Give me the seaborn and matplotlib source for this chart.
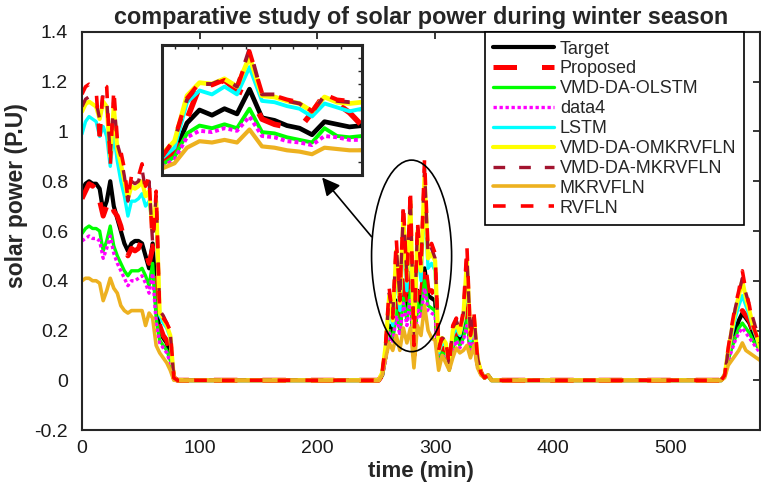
import matplotlib
matplotlib.use("Agg")
import matplotlib.pyplot as plt
import seaborn as sns
from matplotlib.patches import Ellipse

# ---------------- data ----------------
time_day1 = list(range(0, 82, 3))        # 0..81
time_day2 = list(range(252, 349, 3))     # 252..348
time_day3 = list(range(543, 577, 3))     # 543..576
time = time_day1 + time_day2 + time_day3

target_d1 = [.76,.79,.80,.79,.79,.77,.68,.72,.80,.70,.65,.60,.55,.52,.55,.56,.56,.55,.50,.45,.55,.30,.20,.17,.15,.10,.01,0]
target_d2 = [0,.02,.10,.22,.18,.32,.22,.38,.27,.41,.10,.36,.30,.45,.34,.33,.32,.08,.12,.11,.05,.14,.19,.15,.19,.28,.13,.20,.07,.03,.01,.02,0]
target_d3 = [0,.02,.09,.15,.20,.24,.27,.25,.23,.19,.16,.14]

proposed_d1 = [.73,.76,.79,.78,.80,.72,.66,.70,.74,.68,.66,.62,.56,.50,.53,.52,.53,.57,.52,.47,.53,.32,.22,.18,.16,.11,.01,0]
proposed_d2 = [0,.02,.10,.22,.18,.33,.22,.40,.28,.43,.10,.38,.32,.48,.36,.36,.34,.08,.13,.12,.05,.15,.20,.16,.20,.30,.14,.21,.07,.03,.01,.02,0]
proposed_d3 = [0,.02,.10,.15,.21,.25,.28,.26,.24,.20,.17,.14]

olstm_d1 = [.59,.61,.62,.61,.61,.60,.52,.56,.62,.54,.50,.47,.44,.42,.44,.44,.44,.45,.42,.38,.47,.25,.16,.14,.12,.08,.01,0]
olstm_d2 = [0,.02,.09,.20,.16,.28,.20,.33,.24,.36,.09,.31,.27,.40,.30,.29,.28,.07,.11,.10,.04,.13,.17,.14,.17,.24,.12,.18,.06,.03,.01,.02,0]
olstm_d3 = [0,.02,.08,.13,.17,.21,.23,.21,.19,.16,.14,.12]

data4_d1 = [.56,.57,.58,.57,.57,.56,.49,.53,.58,.51,.47,.44,.41,.38,.40,.40,.41,.42,.39,.35,.43,.23,.15,.13,.11,.07,.01,0]
data4_d2 = [0,.02,.08,.19,.15,.26,.18,.31,.22,.33,.08,.29,.25,.37,.28,.27,.26,.06,.10,.09,.04,.12,.16,.13,.16,.22,.11,.17,.06,.03,.01,.02,0]
data4_d3 = [0,.02,.08,.12,.16,.19,.21,.19,.17,.15,.13,.11]

lstm_d1 = [.99,1.04,1.06,1.05,1.04,.98,1.02,.98,.86,.99,.88,.80,.74,.66,.72,.72,.73,.75,.70,.72,.62,.68,.26,.23,.21,.17,.01,0]
lstm_d2 = [0,.03,.12,.30,.22,.46,.28,.58,.36,.64,.13,.54,.40,.74,.45,.47,.44,.11,.15,.14,.05,.18,.21,.18,.24,.42,.16,.23,.08,.03,.01,.02,0]
lstm_d3 = [0,.02,.11,.18,.25,.30,.34,.30,.26,.21,.17,.13]

omk_d1 = [1.08,1.11,1.12,1.11,1.10,1.05,1.12,1.10,.90,1.10,.93,.87,.80,.73,.78,.77,.78,.80,.74,.76,.60,.72,.27,.25,.22,.18,.01,0]
omk_d2 = [0,.03,.14,.34,.24,.52,.31,.65,.40,.72,.14,.60,.44,.82,.49,.51,.48,.12,.17,.15,.06,.20,.23,.19,.26,.48,.17,.25,.09,.03,.01,.02,0]
omk_d3 = [0,.02,.12,.20,.28,.34,.40,.33,.28,.22,.18,.13]

mk_d1 = [1.10,1.13,1.14,1.13,1.12,1.05,1.15,1.13,.90,1.13,.95,.90,.82,.72,.80,.79,.80,.85,.76,.80,.55,.74,.28,.26,.23,.19,.01,0]
mk_d2 = [0,.03,.14,.35,.26,.54,.33,.68,.42,.74,.15,.62,.46,.85,.50,.53,.49,.13,.17,.16,.06,.21,.24,.20,.27,.50,.18,.26,.09,.03,.01,.02,0]
mk_d3 = [0,.02,.12,.21,.29,.35,.41,.35,.30,.25,.20,.15]

mkr_d1 = [.40,.41,.41,.40,.40,.39,.32,.36,.41,.37,.35,.30,.28,.27,.28,.28,.28,.28,.22,.27,.25,.14,.11,.09,.07,.04,0,0]
mkr_d2 = [0,.02,.09,.15,.12,.18,.12,.21,.15,.21,.05,.22,.18,.30,.20,.17,.16,.04,.10,.07,.04,.09,.13,.11,.12,.14,.09,.14,.05,.02,.01,.02,0]
mkr_d3 = [0,.01,.06,.08,.10,.12,.15,.12,.11,.10,.09,.08]

rvfln_d1 = [1.15,1.18,1.19,1.18,1.17,.95,1.19,1.18,.86,1.17,.97,.92,.85,.73,.82,.80,.82,.87,.78,.82,.52,.76,.27,.25,.23,.20,.01,0]
rvfln_d2 = [0,.03,.15,.37,.25,.57,.32,.71,.40,.77,.14,.64,.45,.89,.52,.55,.51,.12,.18,.16,.06,.22,.25,.20,.28,.54,.18,.27,.09,.03,.01,.02,0]
rvfln_d3 = [0,.02,.13,.22,.30,.36,.44,.36,.30,.22,.18,.12]

# inset (zoomed view) data
inset_x = list(range(17))
inset_target   = [.12,.17,.40,.50,.46,.51,.47,.66,.44,.42,.38,.36,.31,.41,.39,.37,.38]
inset_proposed = [.12,.16,.43,.68,.69,.73,.65,.61,.43,.39,.37,.36,.48,.62,.55,.48,.38]
inset_olstm    = [.08,.14,.32,.38,.36,.39,.36,.51,.33,.32,.29,.27,.25,.36,.30,.29,.30]
inset_data4    = [.06,.12,.29,.34,.33,.36,.34,.45,.30,.29,.26,.25,.23,.30,.29,.27,.27]
inset_lstm     = [.13,.21,.56,.65,.62,.68,.62,.83,.57,.56,.53,.51,.45,.55,.52,.49,.51]
inset_omk      = [.16,.26,.61,.71,.70,.74,.68,.91,.61,.60,.57,.55,.49,.60,.56,.55,.56]
inset_mk       = [.14,.27,.58,.70,.70,.74,.68,.97,.62,.62,.57,.55,.48,.61,.57,.56,.56]
inset_mkr      = [.05,.09,.21,.26,.25,.27,.25,.35,.22,.21,.19,.18,.16,.21,.20,.19,.19]
inset_rvfln    = [.14,.28,.59,.71,.69,.73,.67,.95,.63,.61,.58,.56,.49,.62,.58,.57,.57]

labels = ["Target", "Proposed", "VMD-DA-OLSTM", "data4", "LSTM",
          "VMD-DA-OMKRVFLN", "VMD-DA-MKRVFLN", "MKRVFLN", "RVFLN"]

main_vals = [target_d1 + target_d2 + target_d3,
             proposed_d1 + proposed_d2 + proposed_d3,
             olstm_d1 + olstm_d2 + olstm_d3,
             data4_d1 + data4_d2 + data4_d3,
             lstm_d1 + lstm_d2 + lstm_d3,
             omk_d1 + omk_d2 + omk_d3,
             mk_d1 + mk_d2 + mk_d3,
             mkr_d1 + mkr_d2 + mkr_d3,
             rvfln_d1 + rvfln_d2 + rvfln_d3]
inset_vals = [inset_target, inset_proposed, inset_olstm, inset_data4, inset_lstm,
              inset_omk, inset_mk, inset_mkr, inset_rvfln]

# styles: color, linewidth, dashes (None = solid)
styles = [("#000000", 3.0, None),
          ("#FF0000", 3.6, (4.7, 5.0)),
          ("#00FF00", 2.4, None),
          ("#FF00FF", 2.4, (1.0, 0.8)),
          ("#00FFFF", 2.4, None),
          ("#FFFF00", 3.0, None),
          ("#A2142F", 2.4, (3.5, 4.2)),
          ("#EDB120", 2.6, None),
          ("#FF0000", 2.6, (3.5, 4.2))]

# ---------------- figure ----------------
sns.set_theme(style="white")
plt.rcParams['font.family'] = ['Liberation Sans', 'DejaVu Sans']

fig = plt.figure(figsize=(7.61, 4.86), dpi=100)
ax = fig.add_axes([82/761, 1-430/486, 678/761, 398/486])

for lab, vals, (c, lw, d) in zip(labels, main_vals, styles):
    sns.lineplot(x=time, y=vals, ax=ax, color=c, linewidth=lw, label=lab,
                 errorbar=None, sort=False)
    line = ax.lines[-1]
    if d is not None:
        line.set_dashes(d)

ax.set_xlim(0, 576)
ax.set_ylim(-0.2, 1.4)
ax.set_xticks([0, 100, 200, 300, 400, 500])
yt = [-0.2, 0, 0.2, 0.4, 0.6, 0.8, 1.0, 1.2, 1.4]
ax.set_yticks(yt)
ax.set_yticklabels([f"{v:g}" for v in yt])
ax.tick_params(direction='in', length=5, width=1.3, labelsize=14,
               top=True, right=True, colors='#262626', labelcolor='#1a1a1a')
ax.tick_params(axis='y', pad=10)
ax.tick_params(axis='x', pad=7)
for s in ax.spines.values():
    s.set_linewidth(1.5)
    s.set_color('#262626')
    s.set_visible(True)

ax.set_title("comparative study of solar power during winter season",
             fontsize=16.8, fontweight='bold', pad=6)
ax.set_xlabel("time (min)", fontsize=16, fontweight='bold', labelpad=3)
ax.set_ylabel("solar power (P.U)", fontsize=16.5, fontweight='bold')
ax.yaxis.set_label_coords(-0.08, 0.59)

leg = ax.legend(loc='upper right', bbox_to_anchor=(0.977, 0.999), fontsize=13,
                frameon=True, fancybox=False, edgecolor='black', framealpha=1,
                handlelength=3.4, handletextpad=0.3, labelspacing=0.16,
                borderpad=0.45, borderaxespad=0)
leg.get_frame().set_linewidth(1.2)

# ellipse and arrow
ax.add_patch(Ellipse((280, 0.50), width=68, height=0.77, fill=False,
                     edgecolor='black', lw=1.2, zorder=20))
ax.annotate('', xy=(204, 0.815), xytext=(246, 0.577),
            arrowprops=dict(arrowstyle='-|>,head_length=0.9,head_width=0.45',
                            color='black', lw=1.2, shrinkA=0, shrinkB=0),
            zorder=21)

# inset
axin = fig.add_axes([162/761, 1-175/486, 200/761, 130/486])
for vals, (c, lw, d) in zip(inset_vals, styles):
    sns.lineplot(x=inset_x, y=vals, ax=axin, color=c, linewidth=lw + 0.4,
                 legend=False, errorbar=None, sort=False)
    line = axin.lines[-1]
    if d is not None:
        line.set_dashes(d)
axin.set_xlim(0, 16)
axin.set_ylim(0, 1)
axin.set_xticks([1.0, 2.9, 4.8, 6.7, 8.6, 10.5, 12.4, 14.3])
axin.set_yticks([0.1, 0.2, 0.3, 0.4, 0.5, 0.6, 0.7, 0.8, 0.9])
axin.set_xticklabels([])
axin.set_yticklabels([])
axin.set_xlabel("")
axin.set_ylabel("")
axin.tick_params(direction='in', length=3, width=1, colors='#262626',
                 top=True, right=True)
for s in axin.spines.values():
    s.set_linewidth(2.2)
    s.set_color('#262626')
    s.set_visible(True)

fig.savefig("out.png", dpi=100)
